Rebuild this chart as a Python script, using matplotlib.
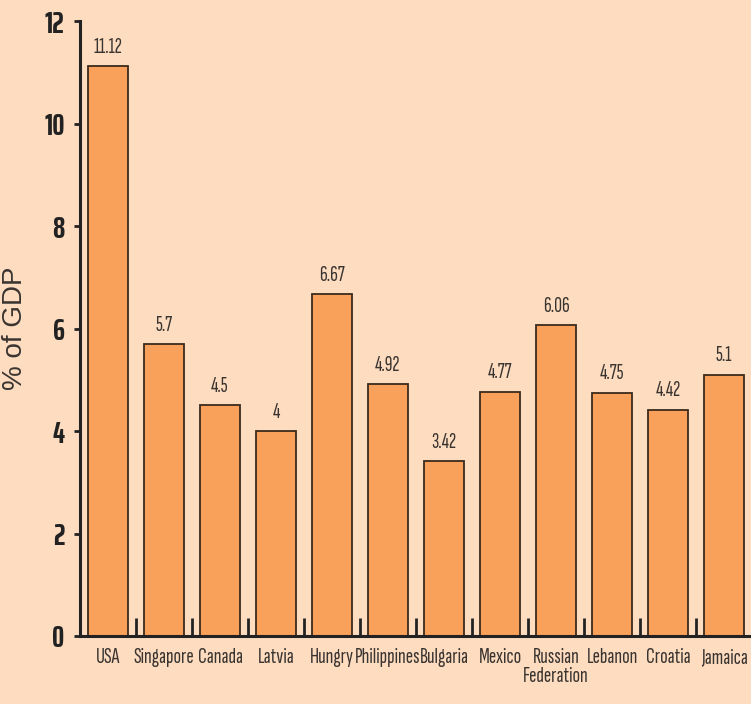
import matplotlib
matplotlib.use("Agg")
import matplotlib.pyplot as plt
from matplotlib import font_manager

countries = ["USA", "Singapore", "Canada", "Latvia", "Hungry", "Philippines",
             "Bulgaria", "Mexico", "Russian\nFederation", "Lebanon", "Croatia", "Jamaica"]
values = [11.12, 5.7, 4.5, 4.0, 6.67, 4.92, 3.42, 4.77, 6.06, 4.75, 4.42, 5.1]
value_labels = ["11.12", "5.7", "4.5", "4", "6.67", "4.92", "3.42", "4.77", "6.06", "4.75", "4.42", "5.1"]
y_ticks = [0, 2, 4, 6, 8, 10, 12]

installed = {f.name for f in font_manager.fontManager.ttflist}
def pick(options):
    for o in options:
        if o in installed:
            return o
    return "DejaVu Sans"

narrow = pick(["Sofia Sans Extra Condensed", "Pathway Gothic One", "Saira ExtraCondensed"])
narrow_bold = pick(["Saira ExtraCondensed", "Antonio", "Sofia Sans Extra Condensed"])
plain = pick(["Liberation Sans", "Arimo", "DejaVu Sans"])

bg = "#FDDCBF"
bar_color = "#F9A05A"
edge = "#3b2a1c"
txt = "#3a3431"
axis_col = "#222222"

fig = plt.figure(figsize=(7.51, 7.04), dpi=100, facecolor=bg)
ax = fig.add_axes([0.1065, 0.0966, 0.895, 0.8734])
ax.set_facecolor(bg)

x = list(range(len(countries)))
ax.bar(x, values, width=0.71, color=bar_color, edgecolor=edge, linewidth=1.3, zorder=2)

for xi, v, lab in zip(x, values, value_labels):
    ax.text(xi, v + 0.18, lab, ha="center", va="bottom", fontsize=15.5,
            family=narrow, color=txt)

ax.set_xlim(-0.5, 11.5)
ax.set_ylim(0, 12)

for s in ["top", "right"]:
    ax.spines[s].set_visible(False)
for s in ["left", "bottom"]:
    ax.spines[s].set_color(axis_col)
    ax.spines[s].set_linewidth(2.2)

ax.set_yticks(y_ticks)
ax.set_yticklabels([str(t) for t in y_ticks], fontsize=22, fontweight="bold",
                   family=narrow_bold, color=axis_col)
ax.tick_params(axis="y", direction="out", length=4, width=2, color=axis_col, pad=7)
ax.set_yticks([12], minor=True)
ax.tick_params(axis="y", which="minor", direction="in", length=17, width=2.2, color=axis_col)

ax.set_xticks(x)
ax.set_xticklabels(countries, fontsize=16, family=narrow, color=txt, linespacing=0.95)
ax.tick_params(axis="x", which="major", length=0, pad=9)
ax.set_xticks([i + 0.5 for i in range(11)], minor=True)
ax.tick_params(axis="x", which="minor", direction="in", length=13, width=2, color=axis_col)

ax.set_ylabel("% of GDP", fontsize=20, family=plain, color=txt)
ax.yaxis.set_label_coords(-0.077, 0.5)

fig.savefig("out.png", dpi=100, facecolor=bg)
